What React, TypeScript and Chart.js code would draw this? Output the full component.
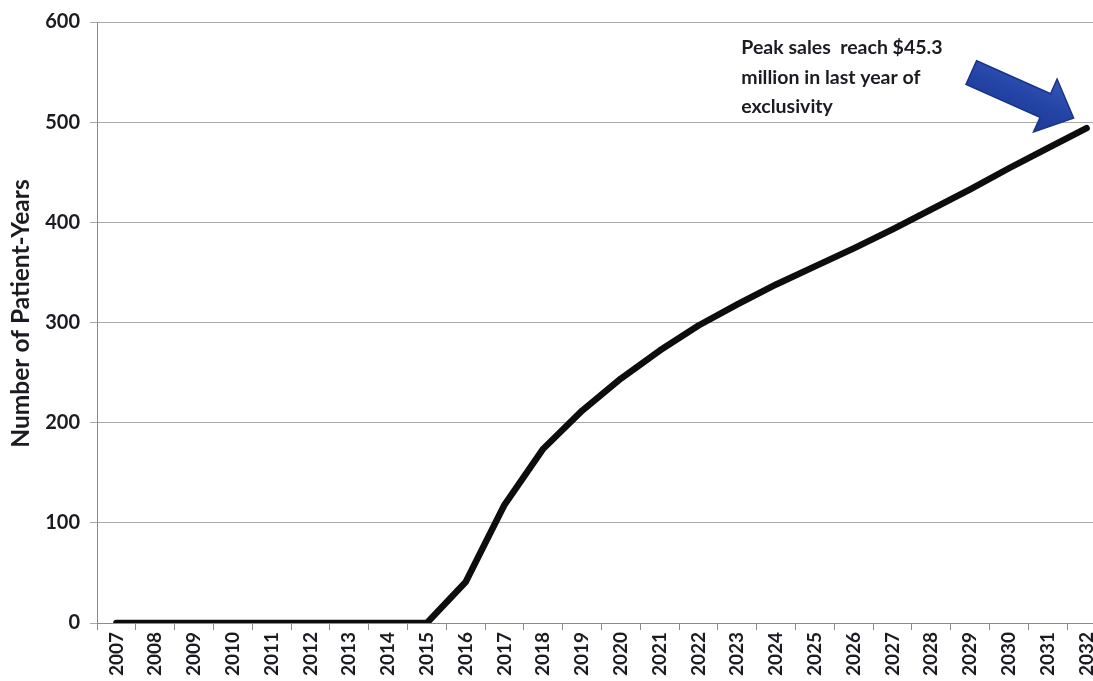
import { useEffect, useRef } from "react";
import { Chart, registerables } from "chart.js";

Chart.register(...registerables);

// Forecast of patient-years on therapy, by year
const years = [
  "2007", "2008", "2009", "2010", "2011", "2012", "2013", "2014", "2015",
  "2016", "2017", "2018", "2019", "2020", "2021", "2022", "2023", "2024",
  "2025", "2026", "2027", "2028", "2029", "2030", "2031", "2032",
];
const patientYears = [
  0, 0, 0, 0, 0, 0, 0, 0, 0,
  41, 118, 174, 212, 244, 272, 297, 318, 338,
  356, 374, 393, 413, 433, 454, 474, 494,
];
const yTickValues = [0, 100, 200, 300, 400, 500, 600];
const axisTitle = "Number of Patient-Years";
const calloutLines = [
  "Peak sales  reach $45.3",
  "million in last year of",
  "exclusivity",
];

const FONT = "Lato, 'Open Sans', sans-serif";
const TEXT = "#1b1b22";

// Axis title, callout text and the block arrow pointing at the final year
const calloutPlugin = {
  id: "callout",
  afterDraw(chart: any) {
    const { ctx, scales } = chart;
    const xs = scales.x;
    const ys = scales.y;

    // axis title
    ctx.save();
    ctx.font = `bold 24.5px ${FONT}`;
    ctx.fillStyle = TEXT;
    ctx.textAlign = "center";
    ctx.textBaseline = "middle";
    ctx.translate(21, ys.getPixelForValue(309));
    ctx.rotate(-Math.PI / 2);
    ctx.fillText(axisTitle, 0, 0);
    ctx.restore();

    // callout text
    ctx.save();
    ctx.font = `bold 19.5px ${FONT}`;
    ctx.fillStyle = TEXT;
    ctx.textAlign = "left";
    ctx.textBaseline = "alphabetic";
    const tx = xs.getPixelForValue(16) + 4;
    const ty = ys.getPixelForValue(568);
    calloutLines.forEach((line, i) => ctx.fillText(line, tx, ty + i * 29.5));
    ctx.restore();

    // arrow, tip just above-left of the last point
    const meta = chart.getDatasetMeta(0);
    const last = meta.data[meta.data.length - 1];
    const tipX = last.x - 13;
    const tipY = last.y - 10;
    const ang = Math.atan2(45, 101);
    const shape = [
      [-112, -13], [-31, -13], [-31, -29], [0, 0],
      [-31, 29], [-31, 13], [-112, 13],
    ];
    ctx.save();
    ctx.translate(tipX, tipY);
    ctx.rotate(ang);
    ctx.beginPath();
    shape.forEach(([px, py], i) => (i ? ctx.lineTo(px, py) : ctx.moveTo(px, py)));
    ctx.closePath();
    const grad = ctx.createLinearGradient(0, -29, 0, 29);
    grad.addColorStop(0, "#3556b8");
    grad.addColorStop(0.5, "#2444a6");
    grad.addColorStop(1, "#1d3a95");
    ctx.fillStyle = grad;
    ctx.fill();
    ctx.lineWidth = 1.5;
    ctx.strokeStyle = "#1a3389";
    ctx.stroke();
    ctx.restore();
  },
};

export default function App() {
  const canvasRef = useRef<HTMLCanvasElement | null>(null);

  useEffect(() => {
    const canvas = canvasRef.current;
    if (!canvas) return;
    const chart = new Chart(canvas, {
      type: "line",
      data: {
        labels: years,
        datasets: [
          {
            data: patientYears,
            borderColor: "#0d0d0d",
            borderWidth: 6.5,
            pointRadius: 0,
            tension: 0,
            borderCapStyle: "round",
            borderJoinStyle: "round",
            fill: false,
          },
        ],
      },
      options: {
        animation: false,
        responsive: false,
        layout: { padding: { left: 0, top: 20, right: 6, bottom: 0 } },
        plugins: {
          legend: { display: false },
          tooltip: { enabled: false },
        },
        scales: {
          x: {
            type: "category",
            offset: true,
            afterFit: (s: any) => {
              s.height = 58;
            },
            grid: {
              display: true,
              drawOnChartArea: false,
              drawTicks: true,
              tickLength: 7,
              offset: true,
              color: "#8a8a8a",
            },
            border: { display: true, color: "#8a8a8a", width: 1 },
            ticks: {
              minRotation: 90,
              maxRotation: 90,
              autoSkip: false,
              padding: 2,
              color: TEXT,
              font: { family: FONT, size: 19, weight: "bold" },
            },
          },
          y: {
            min: 0,
            max: 600,
            afterFit: (s: any) => {
              s.width = 97;
            },
            afterBuildTicks: (s: any) => {
              s.ticks = yTickValues.map((v) => ({ value: v }));
            },
            grid: {
              color: "#a8a8a8",
              lineWidth: 1,
              tickLength: 7,
              drawTicks: true,
            },
            border: { display: true, color: "#8a8a8a", width: 1 },
            ticks: {
              padding: 10,
              color: TEXT,
              font: { family: FONT, size: 20, weight: "bold" },
            },
          },
        },
      },
      plugins: [calloutPlugin],
    });
    return () => chart.destroy();
  }, []);

  return (
    <div
      style={{
        position: "absolute",
        left: 0,
        top: 0,
        width: 1093,
        height: 681,
        overflow: "hidden",
        background: "#ffffff",
      }}
    >
      <canvas ref={canvasRef} width={1112} height={681} style={{ display: "block" }} />
    </div>
  );
}
